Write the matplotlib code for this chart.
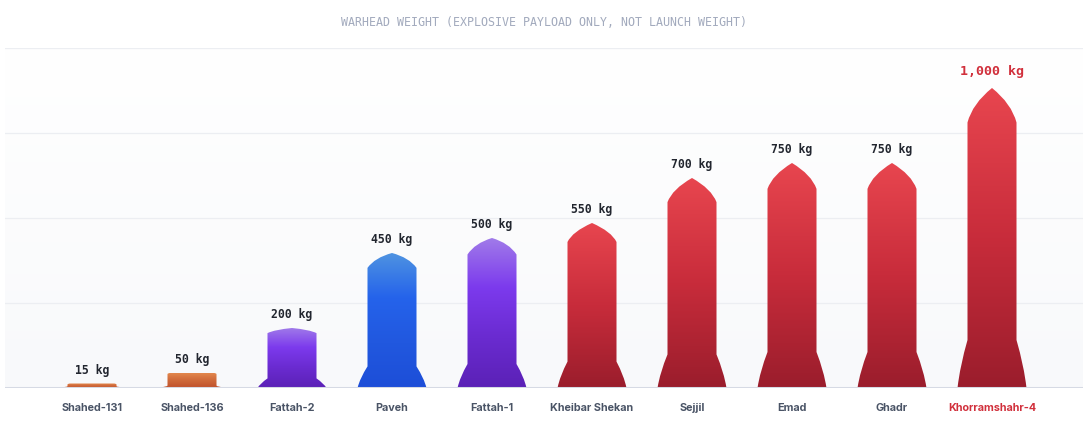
import numpy as np
import matplotlib
matplotlib.use("Agg")
import matplotlib.pyplot as plt
from matplotlib.path import Path
from matplotlib.patches import PathPatch
from matplotlib.colors import LinearSegmentedColormap

# ---------------- data ----------------
categories = ["Shahed-131", "Shahed-136", "Fattah-2", "Paveh", "Fattah-1",
              "Kheibar Shekan", "Sejjil", "Emad", "Ghadr", "Khorramshahr-4"]
weights = [15, 50, 200, 450, 500, 550, 700, 750, 750, 1000]
value_labels = ["15 kg", "50 kg", "200 kg", "450 kg", "500 kg",
                "550 kg", "700 kg", "750 kg", "750 kg", "1,000 kg"]
kinds = ["drone", "drone", "hyper", "cruise", "hyper",
         "ballistic", "ballistic", "ballistic", "ballistic", "ballistic"]
title = "WARHEAD WEIGHT (EXPLOSIVE PAYLOAD ONLY, NOT LAUNCH WEIGHT)"

# ---------------- styles ----------------
gradients = {
    "drone": ["#e58c50", "#d06a3a", "#bf512b"],
    "hyper": ["#a17ce9", "#7c3aed", "#6a2bd0", "#5b21b6"],
    "cruise": ["#4f94e1", "#2563eb", "#2158df", "#1d4ed8"],
    "ballistic": ["#e8464f", "#c82c3b", "#9a1d2c"],
}
highlight = "#d1303c"
YMAX = 1000 / 0.8824

W, H = 1088, 433
fig = plt.figure(figsize=(W / 100, H / 100), dpi=100)
fig.patch.set_facecolor("white")
ax = fig.add_axes([5 / W, 45 / H, 1078 / W, 340 / H])
XL = ((5 - 92) / 100, (1083 - 92) / 100)
ax.set_facecolor("none")

# subtle background gradient (white at top, faint grey at bottom)
bg = np.linspace(1, 0, 256).reshape(-1, 1)
bgcmap = LinearSegmentedColormap.from_list("bg", ["#ffffff", "#f8f9fb"])
ax.imshow(bg, extent=[XL[0], XL[1], 0, YMAX], cmap=bgcmap, aspect="auto",
          zorder=0, origin="lower", vmin=0, vmax=1)

for frac in [0.25, 0.5, 0.75, 1.0]:
    ax.axhline(YMAX * frac, color="#eceef2", lw=0.9, zorder=1)
ax.axhline(0, color="#d6dae4", lw=2.2, zorder=4)

BODY = 0.245
FIN = 0.345


def missile_path(x, h, kind):
    if kind == "drone":
        fl = min(8.0, 0.4 * h)
        r = min(4.0, 0.25 * h)
        verts = [(x - FIN, 0), (x + FIN, 0),
                 (x + BODY, fl * 0.6), (x + BODY, fl),
                 (x + BODY, h - r), (x + BODY, h), (x + BODY - 0.03, h),
                 (x - BODY + 0.03, h),
                 (x - BODY, h), (x - BODY, h - r),
                 (x - BODY, fl), (x - BODY, fl * 0.6), (x - FIN, 0)]
        codes = [Path.MOVETO, Path.LINETO,
                 Path.CURVE3, Path.CURVE3,
                 Path.LINETO, Path.CURVE3, Path.CURVE3,
                 Path.LINETO,
                 Path.CURVE3, Path.CURVE3,
                 Path.LINETO, Path.CURVE3, Path.CURVE3]
        return Path(verts, codes)
    fin_h = 0.16 * h
    if kind == "ballistic":
        nose = 0.115 * h
        ctrl_y = h - nose * 0.455
        ctrl_x = BODY * 0.8
    else:
        nose = (0.085 if h < 300 else 0.11) * h
        ctrl_y = h - nose * 0.31
        ctrl_x = BODY * 0.7
    cx = FIN - 0.25 * (FIN - BODY)
    verts = [(x - FIN, 0), (x + FIN, 0),
             (x + cx, fin_h * 0.46), (x + BODY, fin_h),
             (x + BODY, h - nose),
             (x + ctrl_x, ctrl_y), (x, h),
             (x - ctrl_x, ctrl_y), (x - BODY, h - nose),
             (x - BODY, fin_h),
             (x - cx, fin_h * 0.46), (x - FIN, 0)]
    codes = [Path.MOVETO, Path.LINETO,
             Path.CURVE3, Path.CURVE3,
             Path.LINETO,
             Path.CURVE3, Path.CURVE3,
             Path.CURVE3, Path.CURVE3,
             Path.LINETO,
             Path.CURVE3, Path.CURVE3]
    return Path(verts, codes)


grad = np.linspace(1, 0, 256).reshape(-1, 1)
for i, (w, kind, lab) in enumerate(zip(weights, kinds, value_labels)):
    path = missile_path(i, w, kind)
    patch = PathPatch(path, facecolor="none", edgecolor="none", zorder=3)
    ax.add_patch(patch)
    cmap = LinearSegmentedColormap.from_list(kind, gradients[kind])
    im = ax.imshow(grad, extent=[i - 0.4, i + 0.4, 0, w], cmap=cmap,
                   aspect="auto", origin="lower", zorder=3,
                   interpolation="bilinear", vmin=0, vmax=1)
    im.set_clip_path(patch)
    last = i == len(weights) - 1
    ax.annotate(lab, xy=(i, w), xytext=(0, 5 if not last else 7),
                textcoords="offset points", ha="center", va="bottom",
                fontsize=9.6 if last else 8.3, fontweight="bold",
                family="DejaVu Sans Mono",
                color=highlight if last else "#22262f", zorder=5)

ax.set_xlim(*XL)
ax.set_ylim(0, YMAX)
ax.set_xticks(range(len(categories)))
ax.set_xticklabels(categories, fontsize=7.8, fontweight="bold",
                   family="Inter", color="#4a5466")
ax.get_xticklabels()[-1].set_color(highlight)
ax.tick_params(axis="x", length=0, pad=10.5)
ax.set_yticks([])
for s in ax.spines.values():
    s.set_visible(False)

fig.text(0.5, 1 - 22 / H, title, ha="center", va="center",
         family="DejaVu Sans Mono", fontsize=8.4, color="#a2aabd")

fig.savefig("out.png", dpi=100, facecolor="white")
